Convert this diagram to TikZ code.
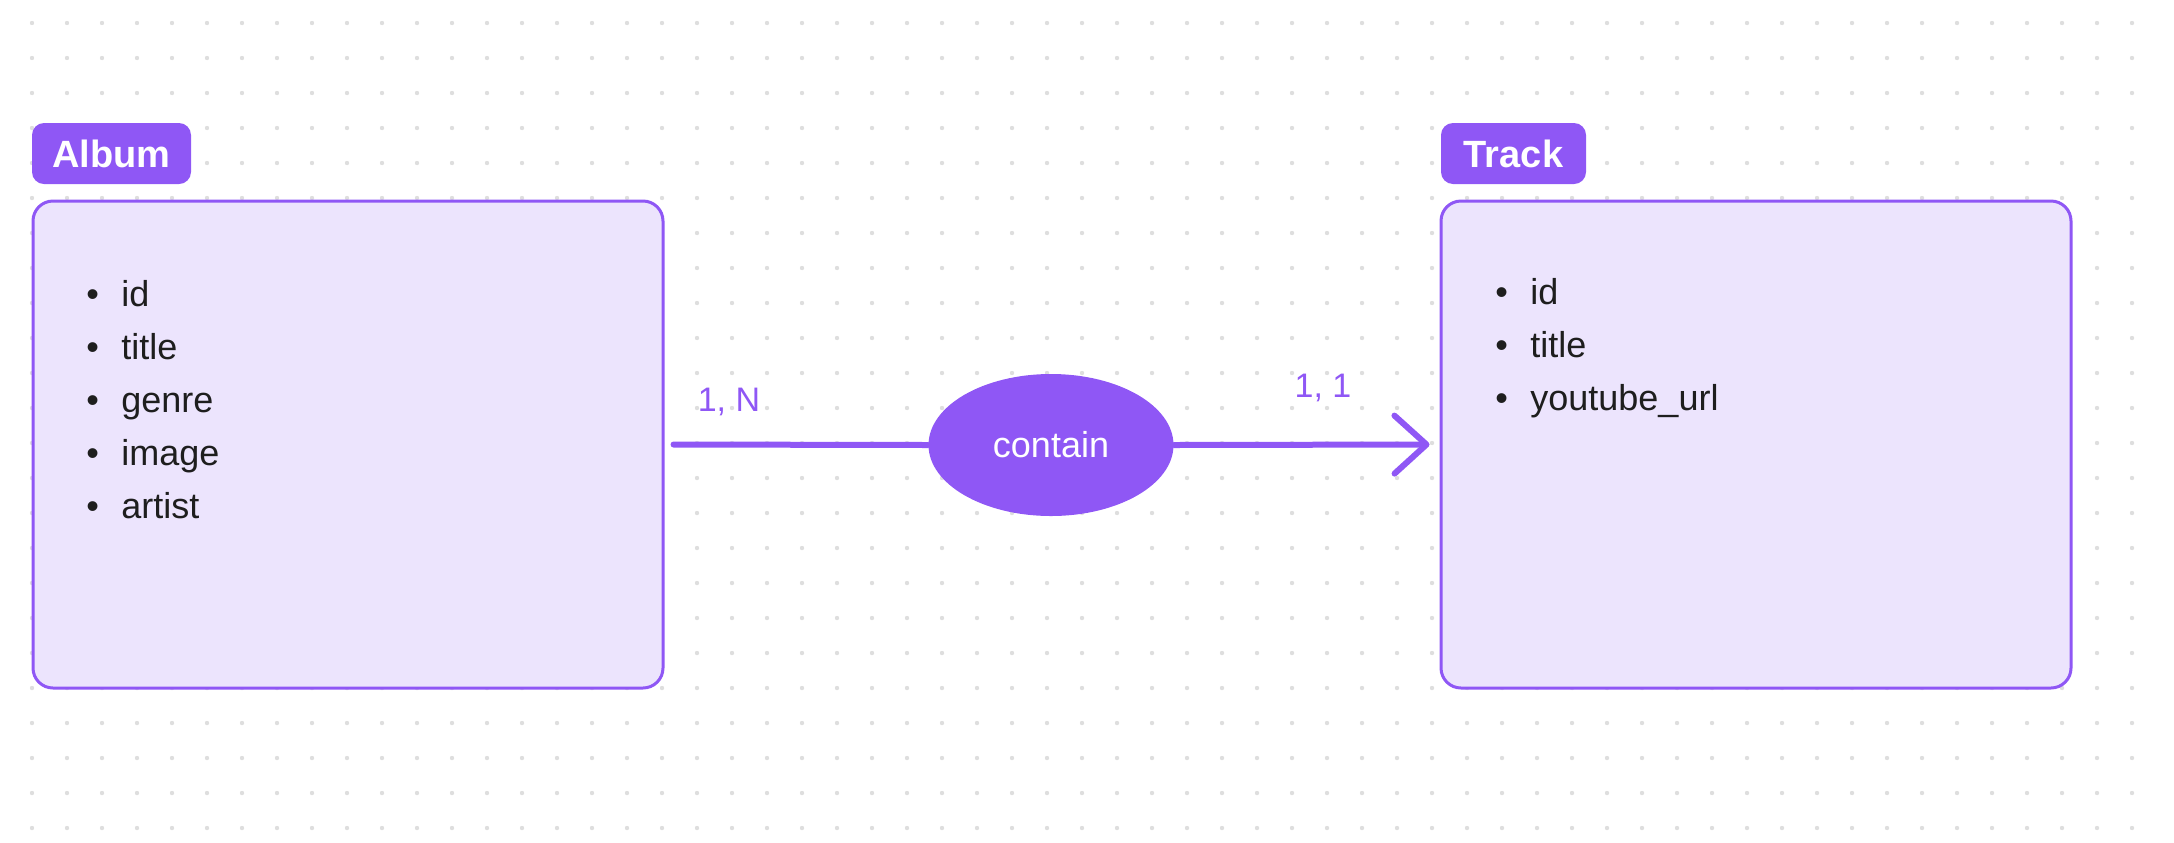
\documentclass[tikz,border=0pt]{standalone}
\usepackage{fontspec}
\setmainfont{Liberation Sans}
\usetikzlibrary{shapes.geometric,arrows.meta}
\definecolor{erviolet}{RGB}{143,87,245}
\definecolor{erlav}{RGB}{236,228,253}
\definecolor{ertext}{RGB}{30,30,30}
\definecolor{erdot}{RGB}{222,222,222}
\begin{document}
\begin{tikzpicture}[
        x=0.5pt, y=-0.5pt,
        entity/.style={draw=erviolet, line width=1.5pt, fill=erlav, rounded corners=10pt, minimum width=315pt, minimum height=243.5pt},
        tag/.style={fill=erviolet, rounded corners=6pt, minimum height=30.5pt, inner sep=0pt, text=white, font=\fontsize{19}{23}\selectfont\bfseries},
        rel/.style={ellipse, fill=erviolet, minimum width=122.5pt, minimum height=71pt, inner sep=0pt, text=white, font=\fontsize{18}{22}\selectfont},
        attr/.style={anchor=base west, inner sep=0pt, text=ertext, font=\fontsize{18}{22}\selectfont},
        card/.style={text=erviolet, font=\fontsize{17}{20}\selectfont},
        link/.style={draw=erviolet, line width=3pt, line cap=round}
    ]
        \useasboundingbox (0,0) rectangle (2174,842);

        % Dotted canvas
        \foreach \i in {0,...,60}
            \foreach \j in {0,...,23}
                \fill[erdot] ({32+35*\i},{23+35*\j}) circle (1.1pt);

        % Entity Album
        \node[tag, minimum width=79.5pt] (albumTag) at (111.5, 153.5) {Album};
        \node[entity] (album) at (348, 444.5) {};
        \foreach \name [count=\k] in {id, title, genre, image, artist}
            \node[attr] (album-\k) at (86, {306+53*(\k-1)}) {\makebox[17.5pt][l]{\textbullet}\name};

        % Entity Track
        \node[tag, minimum width=72.5pt] (trackTag) at (1513.5, 153.5) {Track};
        \node[entity] (track) at (1756, 444.5) {};
        \foreach \name [count=\k] in {id, title, youtube\_url}
            \node[attr] (track-\k) at (1495, {304+53*(\k-1)}) {\makebox[17.5pt][l]{\textbullet}\name};

        % Relationship
        \node[rel] (contain) at (1051, 445) {contain};
        \draw[link, shorten <=4.5pt] (album.east) -- (contain.west);
        \draw[link, shorten >=5pt, -{Straight Barb[length=16pt, width=29pt, round]}] (contain.east) -- (track.west);

        % Cardinalities
        \node[card] (cardAlbum) at (729, 402) {1, N};
        \node[card] (cardTrack) at (1323, 388) {1, 1};
    \end{tikzpicture}
\end{document}
